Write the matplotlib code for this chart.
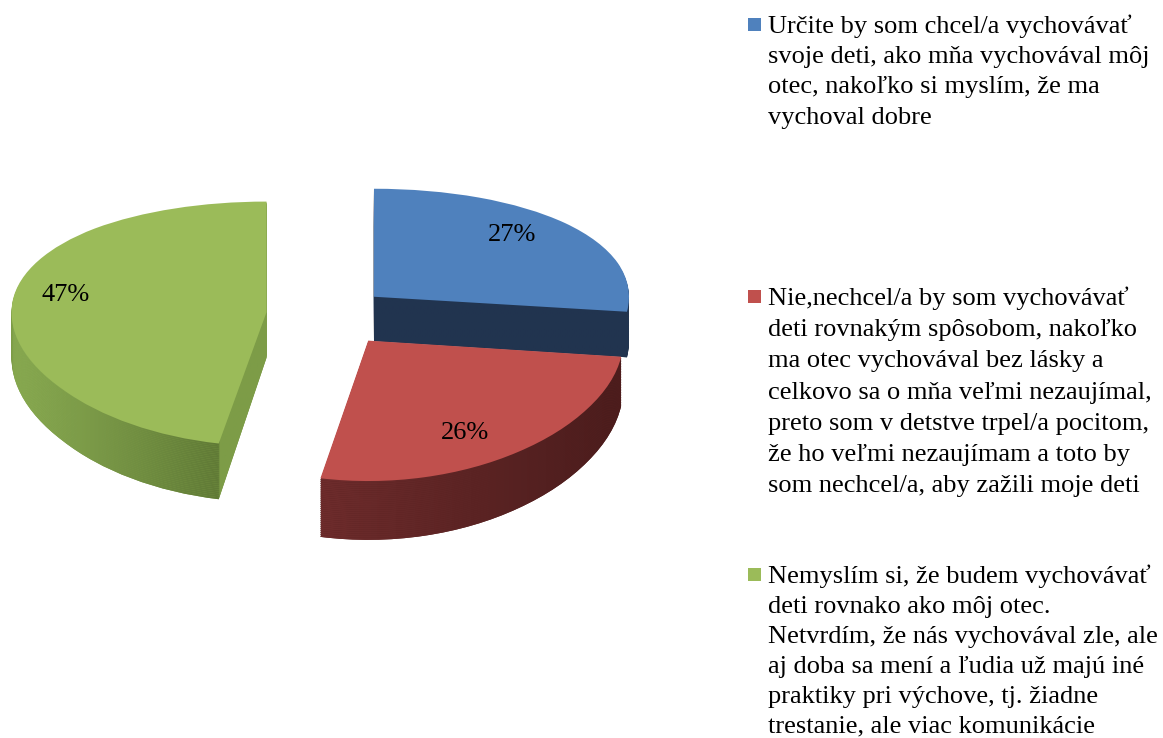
import numpy as np
import matplotlib.pyplot as plt
from matplotlib.colors import to_rgb
from matplotlib.patches import Rectangle

# Data
values = [27, 26, 47]
top_colors = ['#4F81BD', '#C0504D', '#9BBB59']
face_colors = ['#21344F', '#5A2221', '#7D9C47']        # cut faces
wall_light = ['#21344F', '#6E2C2C', '#8BAD53']         # outer wall, left end
wall_dark = ['#21344F', '#4A1C1C', '#607A36']          # outer wall, right end
explode = [0.23, 0.255, 0.25]
legend_lines = [
    ["Určite by som chcel/a vychovávať",
     "svoje deti, ako mňa vychovával môj",
     "otec, nakoľko si myslím, že ma",
     "vychoval dobre"],
    ["Nie,nechcel/a by som vychovávať",
     "deti rovnakým spôsobom, nakoľko",
     "ma otec vychovával bez lásky a",
     "celkovo sa o mňa veľmi nezaujímal,",
     "preto som v detstve trpel/a pocitom,",
     "že ho veľmi nezaujímam a toto by",
     "som nechcel/a, aby zažili moje deti"],
    ["Nemyslím si, že budem vychovávať",
     "deti rovnako ako môj otec.",
     "Netvrdím, že nás vychovával zle, ale",
     "aj doba sa mení a ľudia už majú iné",
     "praktiky pri výchove, tj. žiadne",
     "trestanie, ale viac komunikácie"],
]

W, H = 1163, 738
fig = plt.figure(figsize=(W / 100, H / 100), dpi=100)
plt.rcParams['font.family'] = ['Liberation Serif', 'DejaVu Serif']

# pie axes, laid out in pixels
left, right, top, bottom = 0, 700, 150, 600
ax = fig.add_axes([left / W, 1 - bottom / H, (right - left) / W, (bottom - top) / H])
cx, cy, rx, ry = 330, 315, 255, 121.7   # pie centre and scales in pixels
k_persp = 0.096                         # mild perspective: far side smaller
depth = 0.363


def fwd(y):
    return y / (1 + k_persp * y)


def inv(u):
    return u / (1 - k_persp * u)


xlim = ((left - cx) / rx, (right - cx) / rx)

# top face first, to know where each wedge sits
wedges, texts, autotexts = ax.pie(values, colors=top_colors, explode=explode,
                                  startangle=90, counterclock=False,
                                  autopct='%1.0f%%', pctdistance=0.78,
                                  wedgeprops=dict(linewidth=0, zorder=5),
                                  textprops=dict(fontsize=19, color='black',
                                                 zorder=6))

# nudge the percentage labels a little around each slice's middle
label_turn = [4, -7, -5]      # degrees
label_dist = [0.77, 0.78, 0.80]
for w, t, da, r in zip(wedges, autotexts, label_turn, label_dist):
    a = np.radians((w.theta1 + w.theta2) / 2 + da)
    t.set_position((w.center[0] + r * np.cos(a), w.center[1] + r * np.sin(a)))

# horizontal shading for each slice's side
xs_img = np.linspace(xlim[0], xlim[1], 400)
shades = []
for w, fc, lc, dc in zip(wedges, face_colors, wall_light, wall_dark):
    ang = np.radians(np.linspace(w.theta1, w.theta2, 400))
    front = np.sin(ang) < 0
    img = np.tile(np.array(to_rgb(fc)), (len(xs_img), 1))
    if front.any():
        wx = w.center[0] + w.r * np.cos(ang[front])
        lo, hi = wx.min(), wx.max()
        t = np.clip((xs_img - lo) / max(hi - lo, 1e-6), 0, 1)[:, None]
        grad = (1 - t) * np.array(to_rgb(lc)) + t * np.array(to_rgb(dc))
        inside = (xs_img >= lo) & (xs_img <= hi)
        img[inside] = grad[inside]
    shades.append(img[None, :, :].repeat(2, axis=0))

# side walls: stack shaded copies of the pie downwards
n = 30
for j in range(n, 0, -1):
    side, _ = ax.pie(values, colors=face_colors, explode=explode, startangle=90,
                     counterclock=False, center=(0, -depth * j / n),
                     wedgeprops=dict(linewidth=0, zorder=2))
    for sw, img in zip(side, shades):
        ax.imshow(img, extent=(xlim[0], xlim[1], -3, 2), aspect='auto',
                  clip_path=sw, zorder=2, interpolation='bilinear')

ax.set_aspect('auto')
ax.set_yscale('function', functions=(fwd, inv))
ax.set_xlim(*xlim)
ax.set_ylim(inv((cy - bottom) / ry), inv((cy - top) / ry))
ax.axis('off')

# legend on the right
first_baselines = [33, 305, 583]
line_steps = [30.2, 31.2, 29.9]
for lines, color, y0, step in zip(legend_lines, top_colors, first_baselines, line_steps):
    fig.patches.append(Rectangle((748 / W, 1 - (y0 - 2) / H), 13 / W, 13 / H,
                                 transform=fig.transFigure, facecolor=color,
                                 edgecolor='none'))
    for i, line in enumerate(lines):
        fig.text(768 / W, 1 - (y0 + i * step) / H, line, fontsize=19,
                 va='baseline', ha='left', color='black')

plt.savefig('out.png', dpi=100)
